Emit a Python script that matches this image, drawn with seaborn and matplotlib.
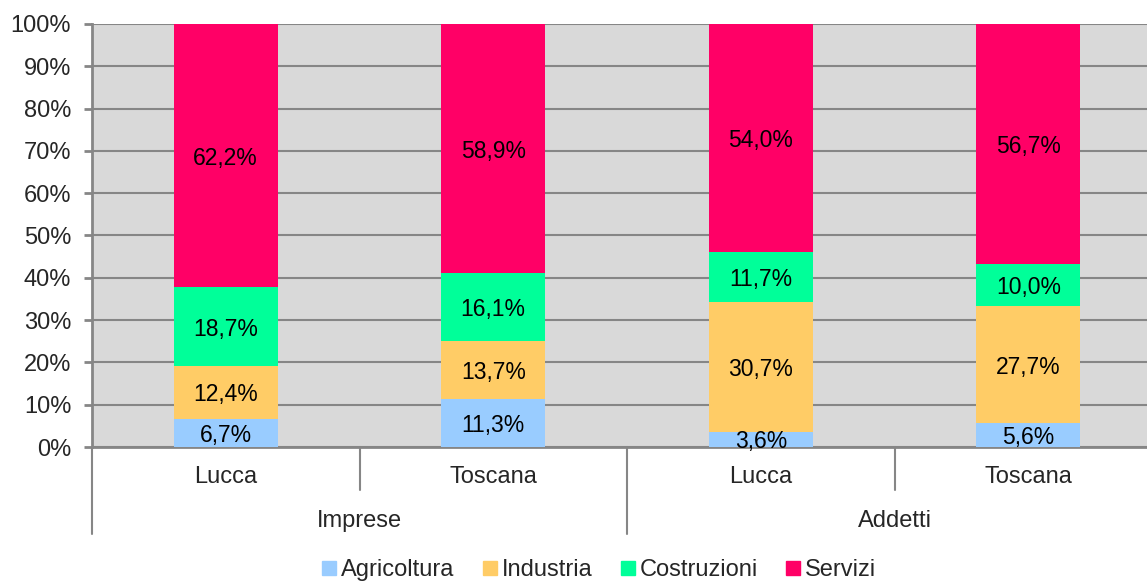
import pandas as pd
import seaborn as sns
import matplotlib.pyplot as plt
from matplotlib.lines import Line2D
import matplotlib.transforms as mtransforms

# dati
gruppi = ['Imprese', 'Imprese', 'Addetti', 'Addetti']
aree = ['Lucca', 'Toscana', 'Lucca', 'Toscana']
settori = ['Agricoltura', 'Industria', 'Costruzioni', 'Servizi']
agricoltura = [6.7, 11.3, 3.6, 5.6]
industria = [12.4, 13.7, 30.7, 27.7]
costruzioni = [18.7, 16.1, 11.7, 10.0]
servizi = [62.2, 58.9, 54.0, 56.7]
colori = ['#99CCFF', '#FFCC66', '#00FF99', '#FF0066']
y_ticks = [0, 10, 20, 30, 40, 50, 60, 70, 80, 90, 100]

df = pd.DataFrame({'gruppo': gruppi, 'area': aree,
                   'Agricoltura': agricoltura, 'Industria': industria,
                   'Costruzioni': costruzioni, 'Servizi': servizi})
df['key'] = df['gruppo'] + '|' + df['area']
ordine = list(df['key'])

sns.set_style('white')
plt.rcParams['font.family'] = ['Liberation Sans', 'DejaVu Sans']

fig = plt.figure(figsize=(11.47, 5.81), dpi=100)
ax = fig.add_axes([92 / 1147, 134 / 581, 1070 / 1147, 423 / 581])
ax.set_facecolor('#D9D9D9')

# barre impilate: si disegna il cumulato dal totale verso il basso
cum = df[settori].cumsum(axis=1)
for s, c in reversed(list(zip(settori, colori))):
    sns.barplot(x=df['key'], y=cum[s], order=ordine, color=c, width=0.39,
                saturation=1, ax=ax, zorder=3, linewidth=0)

# etichette dei valori
for i, row in df.iterrows():
    base = 0
    for s in settori:
        v = row[s]
        ax.text(i, base + v / 2, f'{v:.1f}%'.replace('.', ','), ha='center',
                va='center_baseline', fontsize=16.5, color='black', zorder=4)
        base += v

ax.set_xlim(-0.5, 3.5)
ax.set_ylim(0, 100)
ax.set_yticks(y_ticks)
ax.set_yticklabels([f'{t}%' for t in y_ticks], fontsize=17)
ax.yaxis.grid(True, color='#868686', linewidth=1.5, zorder=1)
ax.set_axisbelow(True)
ax.tick_params(axis='y', length=6, width=2, color='#868686', pad=9, left=True)
ax.tick_params(axis='x', length=0, labelbottom=False)
ax.set_xlabel('')
ax.set_ylabel('')
for sp in ['top', 'right']:
    ax.spines[sp].set_visible(False)
ax.spines['left'].set_color('#868686')
ax.spines['left'].set_linewidth(2)
ax.spines['bottom'].set_color('#868686')
ax.spines['bottom'].set_linewidth(2)

# asse categorie a due livelli
trans = mtransforms.blended_transform_factory(ax.transData, ax.transAxes)
for i, a in enumerate(aree):
    ax.text(i, -0.072, a, transform=trans, ha='center', va='center', fontsize=17)
for j, g in enumerate(['Imprese', 'Addetti']):
    ax.text(2 * j + 0.5, -0.175, g, transform=trans, ha='center', va='center', fontsize=17)
for xs, ybot in [(-0.5, -0.205), (0.5, -0.102), (1.5, -0.205), (2.5, -0.102)]:
    ax.add_line(Line2D([xs, xs], [0, ybot], transform=trans, color='#868686',
                       linewidth=1.5, clip_on=False))

# legenda
handles = [Line2D([], [], marker='s', linestyle='', markersize=10, color=c) for c in colori]
fig.legend(handles, settori, loc='center', bbox_to_anchor=(597 / 1147, 11 / 581),
           ncol=4, frameon=False, fontsize=17, handletextpad=0.0, columnspacing=1.0,
           handlelength=1.0)

fig.savefig('out.png', dpi=100)
